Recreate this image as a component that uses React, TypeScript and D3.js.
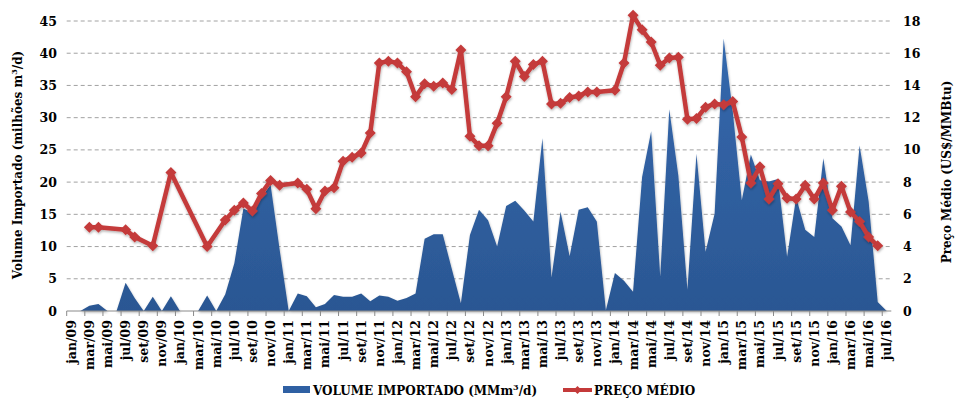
import * as d3 from "d3";

const WIDTH = 961;
const HEIGHT = 405;
const PLOT = { left: 66.7, right: 891.3, top: 21, bottom: 311 };
const FONT = "'DejaVu Serif', 'Liberation Serif', serif";

const MONTH_NAMES = ["jan", "fev", "mar", "abr", "mai", "jun", "jul", "ago", "set", "out", "nov", "dez"];
const YEARS = ["09", "10", "11", "12", "13", "14", "15", "16"];
const MONTH_COUNT = 91; // jan/09 .. jul/16

// volume importado, MMm³/d
const VOLUME = [
  0, 0, 0.8, 1.1, 0, 0, 4.4, 2.0, 0, 2.2, 0, 2.3,
  0, 0, 0, 2.4, 0, 2.6, 7.4, 15.9, 15.2, 17.7, 19.6, 9.5,
  0, 2.7, 2.3, 0.6, 1.1, 2.5, 2.2, 2.2, 2.7, 1.5, 2.4, 2.2,
  1.6, 2.0, 2.7, 11.2, 11.9, 11.9, 6.5, 1.2, 11.8, 15.7, 14.1, 10.0,
  16.3, 17.1, 15.6, 13.9, 26.8, 5.2, 15.4, 8.5, 15.7, 16.1, 13.9, 0.1,
  5.9, 4.7, 3.0, 20.8, 27.9, 5.3, 31.3, 21.0, 3.3, 24.4, 9.2, 15.1,
  42.3, 31.0, 17.2, 24.3, 20.3, 20.1, 20.5, 8.4, 17.6, 12.6, 11.5, 23.7,
  14.4, 13.1, 10.2, 25.7, 17.0, 1.4, 0,
];

// preço médio, US$/MMBtu (null = sem preço no mês)
const PRICE = [
  null, null, 5.2, 5.2, null, null, 5.05, 4.6, null, 4.05, null, 8.6,
  null, null, null, 4.0, null, 5.65, 6.25, 6.7, 6.2, 7.3, 8.1, 7.8,
  null, 7.95, 7.55, 6.35, 7.45, 7.65, 9.3, 9.55, 9.8, 11.05, 15.4, 15.5,
  15.4, 14.85, 13.3, 14.1, 13.95, 14.15, 13.75, 16.2, 10.85, 10.25, 10.25, 11.65,
  13.3, 15.5, 14.55, 15.3, 15.5, 12.85, 12.9, 13.25, 13.35, 13.6, 13.6, null,
  13.7, 15.4, 18.35, 17.45, 16.7, 15.25, 15.7, 15.75, 11.9, 11.95, 12.65, 12.85,
  12.8, 13.0, 10.8, 7.95, 8.95, 6.95, 7.9, 7.0, 6.95, 7.8, 6.95, 7.95,
  6.25, 7.75, 6.15, 5.55, 4.6, 4.05, null,
];

const LEFT_TICKS = [0, 5, 10, 15, 20, 25, 30, 35, 40, 45];
const RIGHT_TICKS = [0, 2, 4, 6, 8, 10, 12, 14, 16, 18];

const CATEGORIES = YEARS.flatMap((yr) => MONTH_NAMES.map((m) => `${m}/${yr}`)).slice(0, MONTH_COUNT);

const BLUE = "#2f60a3";
const RED = "#c43a3a";

function diamond(cx: number, cy: number, r: number) {
  return `M${cx},${cy - r}L${cx + r},${cy}L${cx},${cy + r}L${cx - r},${cy}Z`;
}

export default function App() {
  const x = d3.scaleBand<string>().domain(CATEGORIES).range([PLOT.left, PLOT.right]).padding(0);
  const bw = x.bandwidth();
  const cx = (i: number) => (x(CATEGORIES[i]) ?? 0) + bw / 2;
  const yL = d3.scaleLinear().domain([0, 45]).range([PLOT.bottom, PLOT.top]);
  const yR = d3.scaleLinear().domain([0, 18]).range([PLOT.bottom, PLOT.top]);

  const area = d3
    .area<number>()
    .x((_, i) => cx(i))
    .y0(yL(0))
    .y1((v) => yL(v));

  const pricePts = PRICE.map((p, i) => ({ i, p })).filter((d) => d.p != null) as { i: number; p: number }[];
  const line = d3
    .line<{ i: number; p: number }>()
    .x((d) => cx(d.i))
    .y((d) => yR(d.p));

  const labelIdx = CATEGORIES.map((_, i) => i).filter((i) => i % 2 === 0);

  return (
    <svg
      width={WIDTH}
      height={HEIGHT}
      viewBox={`0 0 ${WIDTH} ${HEIGHT}`}
      style={{ position: "absolute", left: 0, top: 0, background: "#fff" }}
      fontFamily={FONT}
      fontWeight="bold"
    >
      <defs>
        <linearGradient id="volGrad" x1="0" y1="0" x2="0" y2="1">
          <stop offset="0%" stopColor="#3468ad" />
          <stop offset="100%" stopColor="#2b5793" />
        </linearGradient>
        <filter id="shadow" x="-10%" y="-10%" width="120%" height="130%">
          <feDropShadow dx="0.5" dy="1.5" stdDeviation="1.2" floodColor="#000" floodOpacity="0.3" />
        </filter>
      </defs>

      {LEFT_TICKS.filter((t) => t > 0).map((t) => (
        <line
          key={`g-${t}`}
          x1={PLOT.left}
          x2={PLOT.right}
          y1={yL(t)}
          y2={yL(t)}
          stroke="#8a8a8a"
          strokeWidth={0.8}
          strokeDasharray="4,3"
        />
      ))}

      <path d={area(VOLUME) || ""} fill="url(#volGrad)" filter="url(#shadow)" />

      <line x1={PLOT.left} x2={PLOT.right} y1={PLOT.bottom} y2={PLOT.bottom} stroke="#8a8a8a" strokeWidth={1} />
      {labelIdx.map((i) => (
        <line
          key={`t-${i}`}
          x1={x(CATEGORIES[i])}
          x2={x(CATEGORIES[i])}
          y1={PLOT.bottom}
          y2={PLOT.bottom + 5}
          stroke="#8a8a8a"
          strokeWidth={1}
        />
      ))}

      <g filter="url(#shadow)">
        <path d={line(pricePts) || ""} fill="none" stroke={RED} strokeWidth={4.5} strokeLinejoin="round" />
        {pricePts.map((d) => (
          <path key={`m-${d.i}`} d={diamond(cx(d.i), yR(d.p), 5.5)} fill={RED} />
        ))}
      </g>

      {LEFT_TICKS.map((t) => (
        <text key={`l-${t}`} x={57} y={yL(t) + 4.5} textAnchor="end" fontSize={12.5}>
          {t}
        </text>
      ))}
      {RIGHT_TICKS.map((t) => (
        <text key={`r-${t}`} x={903} y={yR(t) + 4.5} textAnchor="start" fontSize={12.5}>
          {t}
        </text>
      ))}

      {labelIdx.map((i) => (
        <text
          key={`x-${i}`}
          transform={`translate(${cx(i) + 4.5} 320) rotate(-90)`}
          textAnchor="end"
          fontSize={12.5}
        >
          {CATEGORIES[i]}
        </text>
      ))}

      <text transform={`translate(22 165) rotate(-90)`} textAnchor="middle" fontSize={12}>
        Volume Importado (milhões m<tspan baselineShift="super" fontSize={8}>3</tspan>/d)
      </text>
      <text transform={`translate(951 172) rotate(-90)`} textAnchor="middle" fontSize={12}>
        Preço Médio (US$/MMBtu)
      </text>

      <rect x={283} y={386} width={27} height={7} fill={BLUE} />
      <text x={313} y={395} fontSize={12}>
        VOLUME IMPORTADO (MMm<tspan baselineShift="super" fontSize={8}>3</tspan>/d)
      </text>
      <line x1={563} x2={592} y1={390} y2={390} stroke={RED} strokeWidth={4} />
      <path d={diamond(577.5, 390, 4)} fill={RED} />
      <text x={594} y={395} fontSize={12}>
        PREÇO MÉDIO
      </text>
    </svg>
  );
}
